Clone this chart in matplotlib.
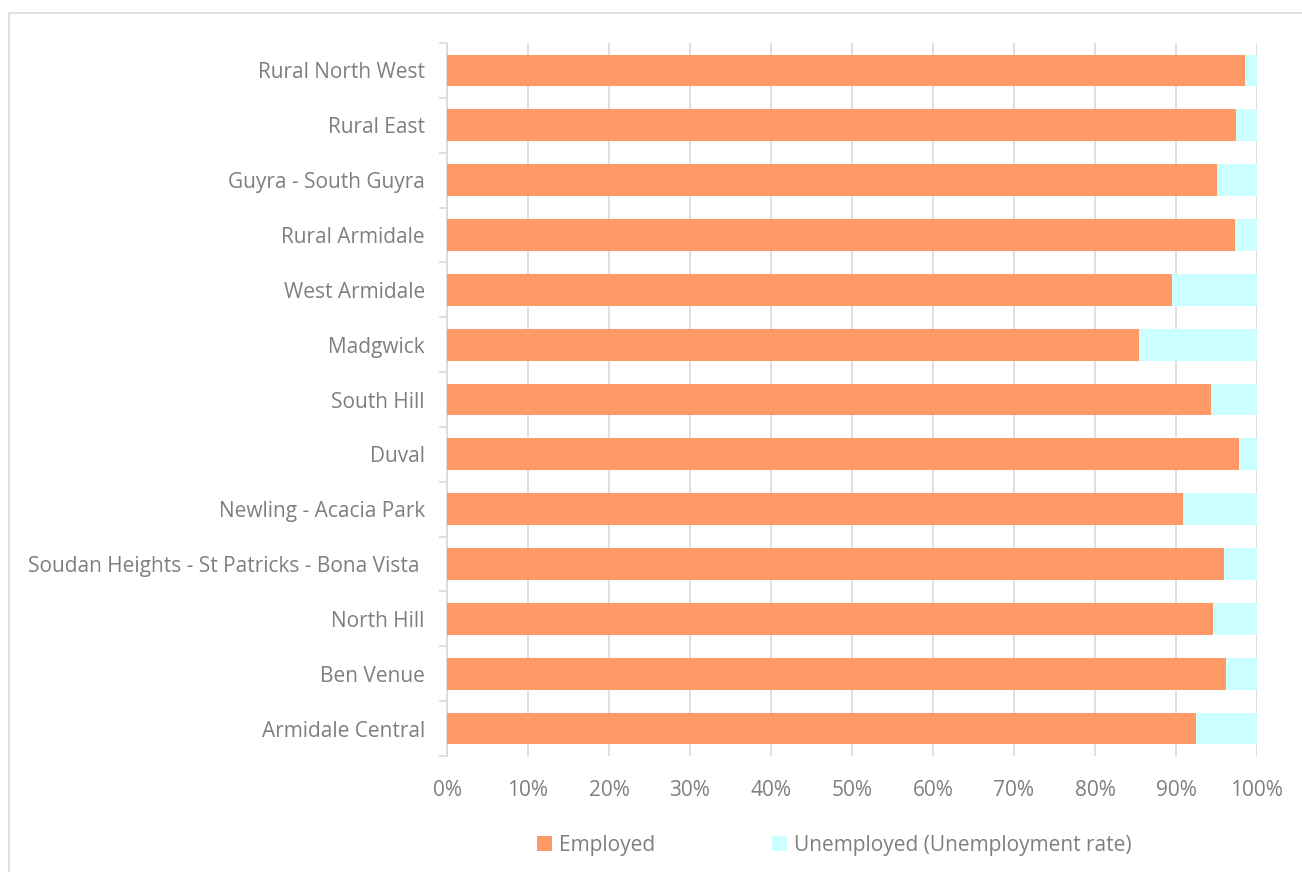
import numpy as np
import matplotlib.pyplot as plt
from matplotlib.patches import Rectangle

plt.rcParams['font.family'] = ['Open Sans', 'DejaVu Sans']

# suburbs, bottom to top as drawn
suburbs = ['Armidale Central', 'Ben Venue', 'North Hill',
           'Soudan Heights - St Patricks - Bona Vista ', 'Newling - Acacia Park',
           'Duval', 'South Hill', 'Madgwick', 'West Armidale', 'Rural Armidale',
           'Guyra - South Guyra', 'Rural East', 'Rural North West']
employed = np.array([92.5, 96.2, 94.6, 95.9, 90.9, 97.8, 94.3, 85.4, 89.5,
                     97.3, 95.1, 97.4, 98.5])
unemployed = 100 - employed

text_col = '#7f7f7f'
grid_col = '#d9d9d9'

fig = plt.figure(figsize=(13.02, 8.72), dpi=100)
ax = fig.add_axes([447 / 1302, 1 - 756 / 872, 810 / 1302, 713 / 872])

y = np.arange(len(suburbs))
ax.barh(y, employed, height=0.58, color='#ff9966', label='Employed', zorder=3)
ax.barh(y, unemployed, left=employed, height=0.58, color='#ccffff',
        label='Unemployed (Unemployment rate)', zorder=3)

ax.set_xlim(0, 100)
ax.set_ylim(-0.5, len(suburbs) - 0.5)
ax.set_xticks(np.arange(0, 101, 10))
ax.set_xticklabels([f'{v}%' for v in range(0, 101, 10)])
ax.set_yticks(y)
ax.set_yticklabels(suburbs)
ax.set_yticks(np.arange(-0.5, len(suburbs), 1), minor=True)

ax.grid(axis='x', color=grid_col, linewidth=1.2, zorder=0)
for side in ['top', 'right', 'bottom']:
    ax.spines[side].set_visible(False)
ax.spines['left'].set_color(grid_col)
ax.spines['left'].set_linewidth(1.2)

ax.tick_params(axis='y', which='major', length=0, pad=16, labelsize=15,
               labelcolor=text_col)
ax.tick_params(axis='y', which='minor', length=6, color=grid_col, width=1.2)
ax.tick_params(axis='x', length=0, pad=17, labelsize=15, labelcolor=text_col)

leg = fig.legend(loc='center', bbox_to_anchor=(0.641, 1 - 845 / 872), ncol=2,
                 frameon=False, fontsize=15, handlelength=0.7, handleheight=0.7,
                 handletextpad=0.35, columnspacing=5.6)
for t in leg.get_texts():
    t.set_color(text_col)

# chart area border
fig.patches.append(Rectangle((9 / 1302, -0.1), 1.1, 1.1 - 13 / 872,
                             transform=fig.transFigure, fill=False,
                             edgecolor=grid_col, linewidth=1.2))

fig.savefig('out.png', dpi=100)
